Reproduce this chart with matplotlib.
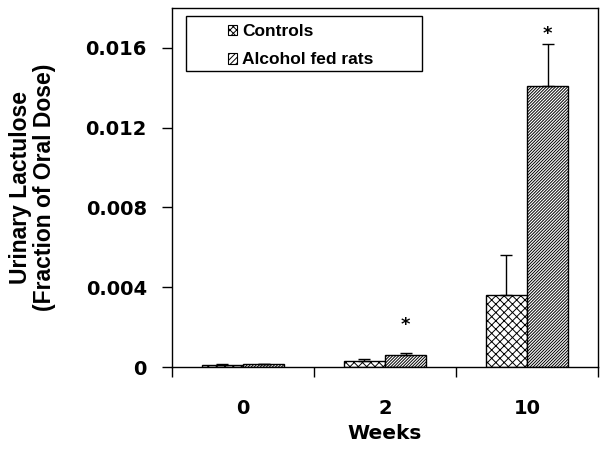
import numpy as np
import matplotlib.pyplot as plt
from matplotlib.patches import Rectangle, Patch

weeks = ['0', '2', '10']
controls = [0.00010, 0.00030, 0.00362]
controls_err = [0.00004, 0.00011, 0.00200]
alcohol = [0.00013, 0.00060, 0.01407]
alcohol_err = [0.00004, 0.00012, 0.00211]
star_y = [None, 0.0021, 0.0167]

plt.rcParams['font.family'] = ['DejaVu Sans']
plt.rcParams['font.weight'] = 'bold'
plt.rcParams['hatch.linewidth'] = 0.7

fig = plt.figure(figsize=(6.09, 4.5), dpi=100)
ax = fig.add_axes([0.2824, 0.1844, 0.6996, 0.7976])

x = np.arange(len(weeks))
w = 0.29
ax.bar(x - w/2, controls, w, color='white', edgecolor='black', hatch='xxxx', lw=1)
ax.bar(x + w/2, alcohol, w, color='white', edgecolor='black', hatch='/'*11, lw=1)
ax.errorbar(x - w/2, controls, yerr=[np.zeros(3), controls_err], fmt='none',
            ecolor='black', elinewidth=1, capsize=4, capthick=1)
ax.errorbar(x + w/2, alcohol, yerr=[np.zeros(3), alcohol_err], fmt='none',
            ecolor='black', elinewidth=1, capsize=4, capthick=1)
for i, s in enumerate(star_y):
    if s is not None:
        ax.text(x[i] + w/2, s, '*', ha='center', va='center', fontsize=13)

ax.set_xlim(-0.5, 2.5)
ax.set_ylim(0, 0.018)
ax.set_yticks([0, 0.004, 0.008, 0.012, 0.016])
ax.set_yticklabels(['0', '0.004', '0.008', '0.012', '0.016'])
ax.set_xticks(x)
ax.set_xticklabels(weeks)
ax.set_xticks([-0.5, 0.5, 1.5, 2.5], minor=True)
ax.tick_params(axis='x', which='major', length=0, pad=23, labelsize=14)
ax.tick_params(axis='x', which='minor', length=7, width=1, direction='out')
ax.tick_params(axis='y', length=7, width=1, labelsize=14, pad=11)
for sp in ax.spines.values():
    sp.set_linewidth(1)

ax.set_xlabel('Weeks', fontsize=14.5, fontweight='bold', labelpad=4)
ax.set_ylabel('Urinary Lactulose\n(Fraction of Oral Dose)', fontsize=16.5,
              fontweight='bold', labelpad=21, linespacing=1.1,
              family='Liberation Sans')

ax.add_patch(Rectangle((0.033, 0.825), 0.554, 0.153, transform=ax.transAxes,
                       fill=False, edgecolor='black', lw=1, zorder=5))
handles = [Patch(facecolor='white', edgecolor='black', hatch='xxxxx', lw=0.8),
           Patch(facecolor='white', edgecolor='black', hatch='//////', lw=0.8)]
ax.legend(handles, ['Controls', 'Alcohol fed rats'], loc='upper left',
          bbox_to_anchor=(0.106, 0.985), frameon=False,
          prop={'family': 'Liberation Sans', 'weight': 'bold', 'size': 12.5},
          handlelength=0.55, handleheight=0.55, handletextpad=0.3,
          labelspacing=0.78, borderpad=0.1)

fig.savefig('out.png', dpi=100)
